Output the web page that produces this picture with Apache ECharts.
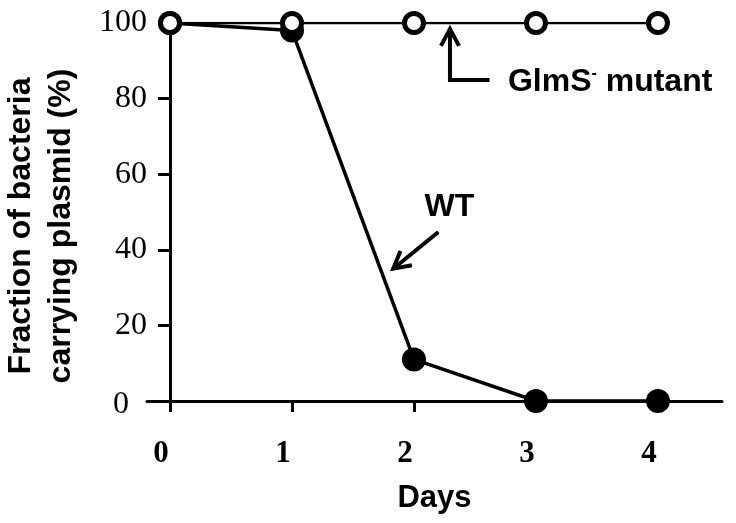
<!DOCTYPE html>
<html><head><meta charset="utf-8">
<script src="https://cdn.jsdelivr.net/npm/echarts@6/dist/echarts.min.js"></script>
<style>html,body{margin:0;padding:0;background:#fff}#c{width:736px;height:523px}</style>
</head><body><div id="c"></div>
<script>
const days = [0, 1, 2, 3, 4];
const wtValues = [100, 98, 11, 0, 0];
const mutantValues = [100, 100, 100, 100, 100];
const yTicks = [0, 20, 40, 60, 80, 100];
const xTitle = 'Days';
const yTitle = 'Fraction of bacteria\ncarrying plasmid (%)';

const SANS = '"Liberation Sans", Arial, sans-serif';
const SERIF = '"Liberation Serif", "Times New Roman", serif';

const chart = echarts.init(document.getElementById('c'), null, {renderer: 'canvas'});
const option = {
  animation: false,
  backgroundColor: '#fff',
  grid: {left: 147, right: 14, top: 23, bottom: 122, containLabel: false, outerBoundsMode: 'none'},
  xAxis: {
    type: 'value', min: -0.1885, max: 4.525,
    splitLine: {show: false},
    axisLine: {onZero: false, lineStyle: {color: '#000', width: 3}},
    axisTick: {show: true, customValues: days, length: 11, inside: false, lineStyle: {color: '#000', width: 3}},
    axisLabel: {customValues: days, margin: 37, fontFamily: SERIF, fontWeight: 'bold', fontSize: 31, color: '#000', padding: [0, 18, 0, 0]},
    name: xTitle, nameLocation: 'middle', nameGap: 82,
    nameTextStyle: {fontFamily: SANS, fontWeight: 'bold', fontSize: 31, color: '#000', padding: [0, 0, 0, 0]}
  },
  yAxis: {
    type: 'value', min: 0, max: 100, interval: 20,
    splitLine: {show: false},
    axisLine: {onZero: true, lineStyle: {color: '#000', width: 3}},
    axisTick: {show: true, length: 12, lineStyle: {color: '#000', width: 3}},
    axisLabel: {
      margin: 0, fontFamily: SERIF, fontSize: 32, color: '#000',
      formatter: v => v === 0 ? '{z|0}' : String(v),
      rich: {z: {fontFamily: SERIF, fontSize: 32, color: '#000', padding: [8, 18, 0, 0]}}
    },
    name: yTitle, nameLocation: 'middle', nameGap: 66,
    nameTextStyle: {fontFamily: SANS, fontWeight: 'bold', fontSize: 32, lineHeight: 40, color: '#000', padding: [0, 28, 0, 0]}
  },
  series: [
    {
      name: 'WT', type: 'line', z: 2,
      data: days.map((d, i) => [d, wtValues[i]]),
      symbol: 'circle', symbolSize: 24,
      itemStyle: {color: '#000'},
      lineStyle: {color: '#000', width: 3.5}
    },
    {
      name: 'GlmS- mutant', type: 'line', z: 3,
      data: days.map((d, i) => [d, mutantValues[i]]),
      symbol: 'circle', symbolSize: 19,
      itemStyle: {color: '#fff', borderColor: '#000', borderWidth: 5},
      lineStyle: {color: '#000', width: 2.5}
    }
  ]
};
chart.setOption(option);

// Annotations, anchored in data units
const P = (x, y) => chart.convertToPixel({gridIndex: 0}, [x, y]);
const mTip = P(2.295, 98.7), mCorner = P(2.295, 84.9), mEnd = P(2.62, 84.9), mText = P(2.77, 84.4);
const wStart = P(2.2, 44.7), wTip = P(1.83, 35), wText = P(2.29, 51.3);
const ang = Math.atan2(wStart[1] - wTip[1], wStart[0] - wTip[0]);
const wing = (a) => [wTip[0] + 19 * Math.cos(ang + a), wTip[1] + 19 * Math.sin(ang + a)];
const lineStyle = {stroke: '#000', lineWidth: 4, fill: null};
chart.setOption({
  graphic: [
    {type: 'polyline', shape: {points: [mTip, mCorner, mEnd]}, style: lineStyle, z: 10},
    {type: 'polyline', shape: {points: [[mTip[0] - 9, mTip[1] + 18], [mTip[0], mTip[1] + 1], [mTip[0] + 9, mTip[1] + 18]]}, style: lineStyle, z: 10},
    {type: 'text', x: mText[0], y: mText[1], z: 10, style: {
      text: '{a|GlmS}{s|-}{a| mutant}', verticalAlign: 'middle', align: 'left',
      rich: {
        a: {fontFamily: SANS, fontWeight: 'bold', fontSize: 32, fill: '#000'},
        s: {fontFamily: SANS, fontWeight: 'bold', fontSize: 16, fill: '#000', verticalAlign: 'top'}
      }
    }},
    {type: 'polyline', shape: {points: [wStart, wTip]}, style: lineStyle, z: 10},
    {type: 'polyline', shape: {points: [wing(0.5), wTip, wing(-0.5)]}, style: lineStyle, z: 10},
    {type: 'text', x: wText[0], y: wText[1], z: 10, style: {
      text: 'WT', align: 'center', verticalAlign: 'middle',
      fontFamily: SANS, fontWeight: 'bold', fontSize: 32, fill: '#000'
    }}
  ]
});
</script></body></html>
